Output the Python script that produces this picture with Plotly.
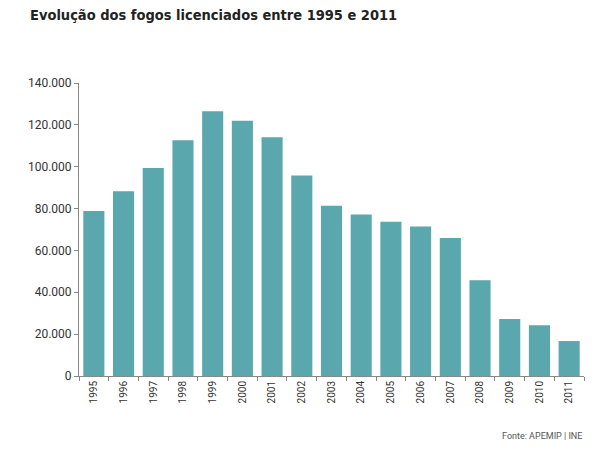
import plotly.graph_objects as go

years = [str(y) for y in range(1995, 2012)]
fogos = [78800, 88300, 99400, 112600, 126500, 122000, 114100, 95800, 81300,
         77200, 73700, 71400, 65900, 45700, 27200, 24300, 16700]
y_ticks = [0, 20000, 40000, 60000, 80000, 100000, 120000, 140000]
y_labels = ["0", "20.000", "40.000", "60.000", "80.000", "100.000", "120.000", "140.000"]

title = "Evolução dos fogos licenciados entre 1995 e 2011"
source = "Fonte: APEMIP | INE"

fig = go.Figure(go.Bar(
    x=years, y=fogos,
    marker=dict(color="#5AA7AE", line=dict(width=0)),
    width=0.71,
))

fig.update_layout(
    width=602, height=444,
    margin=dict(l=71, r=26, t=75, b=76),
    paper_bgcolor="white", plot_bgcolor="white",
    showlegend=False,
    font=dict(family="Roboto", color="#333333"),
    title=dict(text=title, x=22 / 602, xanchor="left", y=1 - 7 / 444, yanchor="middle",
               font=dict(family="DejaVu Sans Condensed", size=14.5,
                         color="#222222", weight="bold")),
    xaxis=dict(
        type="category", tickson="boundaries", ticks="outside", ticklen=4,
        tickcolor="#888888", showline=True, linecolor="#888888", linewidth=1,
        tickangle=-90, tickfont=dict(size=10, color="#333333"),
        showgrid=False, range=[-0.5, 16.5],
    ),
    yaxis=dict(
        range=[0, 140000], tickvals=y_ticks, ticktext=y_labels,
        ticks="outside", ticklen=4, tickcolor="#888888",
        showline=True, linecolor="#888888", linewidth=1,
        showgrid=False, zeroline=False,
        tickfont=dict(size=12, color="#333333"),
    ),
    annotations=[dict(
        text=source, xref="paper", yref="paper", x=1.0, y=-0.205,
        xanchor="right", yanchor="middle", showarrow=False,
        font=dict(size=9, color="#555555"),
    )],
)

fig.write_html("out.html")
